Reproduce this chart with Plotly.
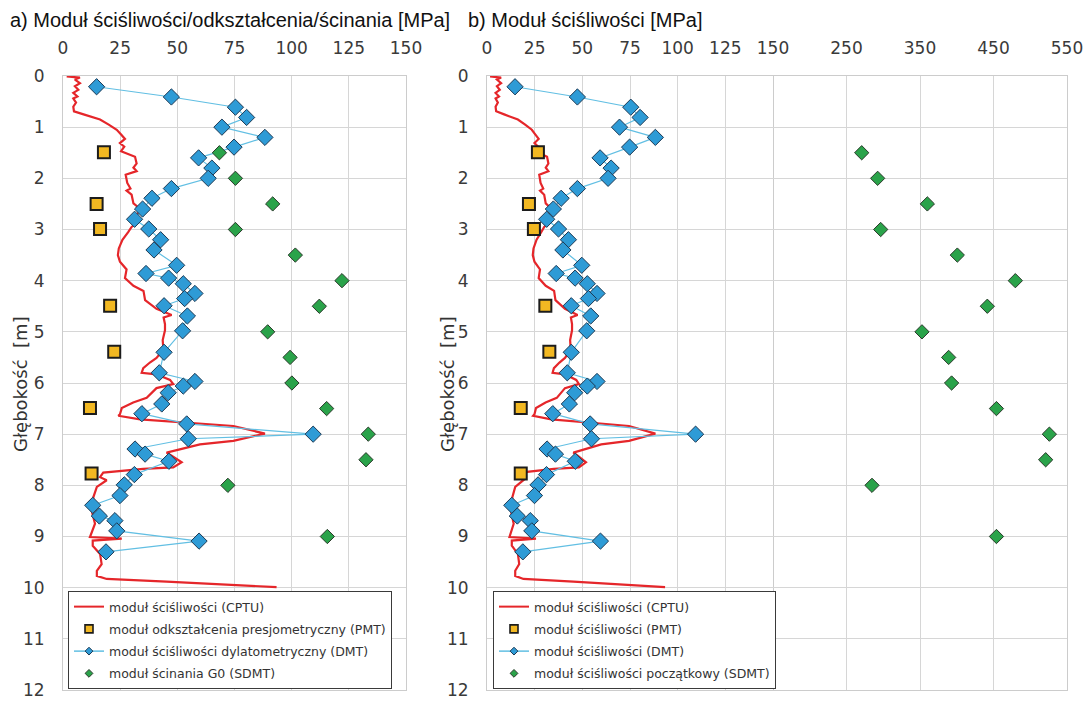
import plotly.graph_objects as go

# ---------------- data ----------------
depth_cptu = [0.01, 0.03, 0.07, 0.14, 0.20, 0.27, 0.33, 0.40, 0.44, 0.52, 0.60, 0.69, 0.75, 0.85, 0.95,
              1.05, 1.15, 1.23, 1.31, 1.38, 1.47, 1.52, 1.58, 1.71, 1.79, 1.86, 1.93, 2.09, 2.20, 2.24,
              2.32, 2.49, 2.54, 2.65, 2.75, 2.85, 2.95, 3.05, 3.20, 3.37, 3.50, 3.63, 3.78, 3.95, 4.10,
              4.20, 4.38, 4.55, 4.67, 4.72, 4.85, 4.97, 5.16, 5.35, 5.51, 5.60, 5.71, 5.80, 5.83, 5.94,
              6.02, 6.10, 6.29, 6.38, 6.49, 6.61, 6.64, 6.71, 6.78, 6.84, 6.99, 7.13, 7.20, 7.36, 7.42,
              7.55, 7.65, 7.68, 7.75, 7.84, 7.90, 8.03, 8.23, 8.49, 8.75, 8.94, 9.01, 9.04, 9.08, 9.18,
              9.34, 9.54, 9.67, 9.77, 9.83, 9.88, 9.95, 9.99]
e_cptu = [1.6, 7.4, 5.2, 7.4, 5.2, 6.7, 4.5, 6.3, 4.5, 5.7, 4.5, 4.8, 9.0, 16.2, 20.0,
          23.5, 25.5, 27.1, 24.9, 26.8, 25.4, 28.0, 31.5, 32.2, 30.8, 32.2, 27.4, 28.1, 29.5, 27.8,
          30.0, 30.8, 32.2, 33.5, 31.5, 33.0, 30.0, 28.5, 26.0, 24.4, 24.0, 24.9, 27.8, 27.1, 30.8,
          35.2, 35.9, 40.9, 47.5, 44.0, 44.6, 44.6, 43.6, 43.9, 40.9, 38.0, 35.1, 34.4, 40.9, 46.8,
          48.2, 40.9, 36.6, 30.7, 25.7, 24.9, 24.2, 33.7, 54.1, 74.5, 88.3, 74.5, 59.9, 45.3, 47.5,
          51.9, 48.2, 35.1, 17.6, 16.2, 19.1, 14.8, 13.3, 12.5, 14.0, 12.5, 11.8, 25.7, 13.0, 13.0,
          16.2, 16.9, 14.8, 14.8, 19.1, 45.3, 74.5, 93.4]

depth_dmt = [0.21, 0.41, 0.61, 0.81, 1.00, 1.20, 1.39, 1.60, 1.80, 2.00, 2.20, 2.39, 2.60, 2.80, 2.99,
             3.20, 3.40, 3.70, 3.86, 3.95, 4.06, 4.25, 4.35, 4.49, 4.69, 4.98, 5.40, 5.80, 5.97, 6.06,
             6.19, 6.41, 6.60, 6.80, 7.00, 7.09, 7.29, 7.39, 7.53, 7.79, 7.99, 8.20, 8.39, 8.60, 8.69,
             8.89, 9.09, 9.30]
e_dmt = [14.7, 47.4, 75.4, 80.3, 69.5, 88.3, 74.8, 59.3, 65.1, 63.5, 47.4, 38.9, 34.8, 31.3, 37.5,
         42.7, 39.8, 49.7, 36.3, 46.2, 52.6, 57.7, 53.2, 44.2, 54.4, 52.3, 44.2, 42.1, 57.7, 52.6,
         46.0, 43.2, 34.5, 54.1, 109.4, 54.8, 31.5, 35.9, 46.3, 31.2, 26.8, 24.9, 13.0, 15.9, 22.7,
         23.5, 59.5, 18.8]

depth_pmt = [1.49, 2.50, 2.99, 4.49, 5.39, 6.49, 7.77]
e_pmt_a = [17.9, 14.7, 16.2, 20.6, 22.4, 11.8, 12.5]
e_pmt_b = [26.7, 22.0, 24.6, 30.6, 32.7, 17.7, 17.7]

depth_sdmt = [1.5, 2.0, 2.5, 3.0, 3.5, 4.0, 4.5, 5.0, 5.5, 6.0, 6.5, 7.0, 7.5, 8.0, 9.0]
g0_sdmt = [68.4, 75.4, 91.7, 75.4, 101.6, 122.0, 112.1, 89.5, 99.3, 100.1, 115.3, 133.5, 132.5, 72.1, 115.6]
e0_sdmt = [270.7, 292.4, 360.0, 296.5, 400.8, 479.7, 441.6, 352.7, 389.0, 393.0, 454.0, 526.0, 521.0, 284.7, 454.0]

ticks_lin = [0, 25, 50, 75, 100, 125, 150]
ticks_hi = [250, 350, 450, 550]

names_a = ["moduł ściśliwości (CPTU)", "moduł odkształcenia presjometryczny (PMT)",
           "moduł ściśliwości dylatometryczny (DMT)", "moduł ścinania G0 (SDMT)"]
names_b = ["moduł ściśliwości (CPTU)", "moduł ściśliwości (PMT)",
           "moduł ściśliwości (DMT)", "moduł ściśliwości początkowy (SDMT)"]

# ---------------- styles ----------------
RED = "#e5262a"
BLUE_LINE = "#62bfe3"
BLUE_FILL = "#2e9bd6"
YELLOW = "#f2b822"
GREEN = "#2aa34a"
GRID = "#d6d6d6"
FRAME = "#cccccc"
TICKC = "#3a3a3a"

W, H = 1087, 701
def fx(px):
    return px / W
def fy(py):
    return 1 - py / H

ydom = [fy(690), fy(76)]

fig = go.Figure()

def add_panel(xa, ya, pmt_vals, sdmt_vals, xa_sdmt, ya_sdmt):
    fig.add_trace(go.Scatter(x=e_cptu, y=depth_cptu, mode="lines", showlegend=False,
                             line=dict(color=RED, width=2.2), xaxis=xa, yaxis=ya))
    fig.add_trace(go.Scatter(x=pmt_vals, y=depth_pmt, mode="markers", showlegend=False,
                             marker=dict(symbol="square", size=12, color=YELLOW,
                                         line=dict(color="#1c1c1c", width=2)),
                             xaxis=xa, yaxis=ya))
    fig.add_trace(go.Scatter(x=e_dmt, y=depth_dmt, mode="lines+markers", showlegend=False,
                             line=dict(color=BLUE_LINE, width=1.2),
                             marker=dict(symbol="diamond", size=12.5, color=BLUE_FILL,
                                         line=dict(color="#1d3a55", width=1)),
                             xaxis=xa, yaxis=ya))
    fig.add_trace(go.Scatter(x=sdmt_vals, y=depth_sdmt, mode="markers", showlegend=False,
                             marker=dict(symbol="diamond", size=11, color=GREEN,
                                         line=dict(color="#2b3a2b", width=1)),
                             xaxis=xa_sdmt, yaxis=ya_sdmt))

def add_legend_entries(names, legend_id, xa, ya):
    # legend-only entries with small symbols, as in the original legend
    fig.add_trace(go.Scatter(x=[None], y=[None], mode="lines", name=names[0],
                             line=dict(color=RED, width=2), xaxis=xa, yaxis=ya,
                             legend=legend_id, legendgroup=legend_id + "1"))
    fig.add_trace(go.Scatter(x=[None], y=[None], mode="markers", name=names[1],
                             marker=dict(symbol="square", size=8, color=YELLOW,
                                         line=dict(color="#1c1c1c", width=1.6)),
                             xaxis=xa, yaxis=ya, legend=legend_id, legendgroup=legend_id + "2"))
    fig.add_trace(go.Scatter(x=[None], y=[None], mode="lines+markers", name=names[2],
                             line=dict(color=BLUE_LINE, width=1.5),
                             marker=dict(symbol="diamond", size=6, color=BLUE_FILL,
                                         line=dict(color="#1d3a55", width=1)),
                             xaxis=xa, yaxis=ya, legend=legend_id, legendgroup=legend_id + "3"))
    fig.add_trace(go.Scatter(x=[None], y=[None], mode="markers", name=names[3],
                             marker=dict(symbol="diamond", size=6, color=GREEN,
                                         line=dict(color="#2b3a2b", width=1)),
                             xaxis=xa, yaxis=ya, legend=legend_id, legendgroup=legend_id + "4"))

add_panel("x", "y", e_pmt_a, g0_sdmt, "x", "y")
add_panel("x2", "y2", e_pmt_b, e0_sdmt, "x3", "y3")
add_legend_entries(names_a, "legend", "x", "y")
add_legend_entries(names_b, "legend2", "x2", "y2")

tickfont = dict(family="DejaVu Sans", size=17, color=TICKC)
xcommon = dict(side="top", showgrid=True, gridcolor=GRID, gridwidth=1, showline=True,
               linecolor=FRAME, linewidth=1, mirror=True, zeroline=False, tickfont=tickfont,
               ticks="outside", ticklen=14, tickcolor="rgba(0,0,0,0)", fixedrange=True)
ycommon = dict(range=[12, 0], dtick=1, tick0=0, showgrid=True, gridcolor=GRID, gridwidth=1,
               showline=True, linecolor=FRAME, linewidth=1, zeroline=False,
               tickfont=tickfont, ticks="outside", ticklen=14, tickcolor="rgba(0,0,0,0)",
               domain=ydom, fixedrange=True)

legend_common = dict(xanchor="left", yanchor="top", bgcolor="white",
                     bordercolor="#3a3a3a", borderwidth=1, tracegroupgap=3,
                     font=dict(family="DejaVu Sans", size=12.5, color="#333333"))

fig.update_layout(
    width=W, height=H,
    margin=dict(l=0, r=0, t=0, b=0, autoexpand=False),
    paper_bgcolor="white", plot_bgcolor="white",
    xaxis=dict(domain=[fx(63), fx(406)], range=[0, 150], tickvals=ticks_lin, anchor="y", **xcommon),
    yaxis=dict(anchor="x", mirror=True, **ycommon),
    xaxis2=dict(domain=[fx(487), fx(773)], range=[0, 150], tickvals=ticks_lin, anchor="y2", **xcommon),
    yaxis2=dict(anchor="x2", mirror=True, **ycommon),
    xaxis3=dict(domain=[fx(773), fx(1067)], range=[150, 550], tickvals=ticks_hi, anchor="y3", **xcommon),
    yaxis3=dict(anchor="x3", matches="y2", side="right", mirror=False,
                **{**ycommon, "showticklabels": False, "ticks": ""}),
    legend=dict(x=fx(68), y=fy(591), **legend_common),
    legend2=dict(x=fx(493), y=fy(591), **legend_common),
    showlegend=True,
)

ann_font = dict(family="Liberation Sans, Arial", size=20, color="#111111")
fig.add_annotation(text="a) Moduł ściśliwości/odkształcenia/ścinania [MPa]", xref="paper", yref="paper",
                   x=fx(8), y=fy(20), xanchor="left", yanchor="middle", showarrow=False, font=ann_font)
fig.add_annotation(text="b) Moduł ściśliwości [MPa]", xref="paper", yref="paper",
                   x=fx(466), y=fy(20), xanchor="left", yanchor="middle", showarrow=False, font=ann_font)
ytitle_font = dict(family="DejaVu Sans", size=18, color="#333333")
for xp in (20, 447):
    fig.add_annotation(text="Głębokość  [m]", xref="paper", yref="paper", x=fx(xp), y=fy(384),
                       xanchor="center", yanchor="middle", textangle=-90, showarrow=False,
                       font=ytitle_font)

fig.write_html("out.html", config={"displayModeBar": False},
               post_script="document.body.style.margin='0px';")
